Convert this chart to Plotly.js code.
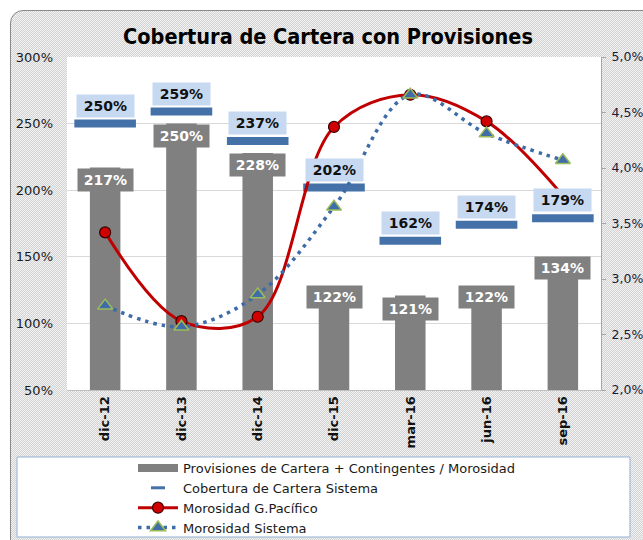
<!DOCTYPE html>
<html>
<head>
<meta charset="utf-8">
<script src="https://cdn.plot.ly/plotly-3.0.1.min.js"></script>
<style>
  html, body { margin: 0; padding: 0; background: #ffffff; width: 643px; height: 540px; overflow: hidden; }
  #frame {
    position: absolute; left: 10px; top: 10px; width: 680px; height: 580px;
    border: 1px solid #8a8a8a; border-radius: 13px;
    background-color: #e2e2e2;
    background-image: repeating-conic-gradient(#d2d2d2 0% 25%, #f3f3f3 0% 50%);
    background-size: 2px 2px;
  }
  #chart { position: absolute; left: 0; top: 0; width: 643px; height: 540px; }
</style>
</head>
<body>
<div id="frame"></div>
<div id="chart"></div>
<script>
// ---- data ----
var categories = ['dic-12', 'dic-13', 'dic-14', 'dic-15', 'mar-16', 'jun-16', 'sep-16'];
var provisiones = [217, 250, 228, 122, 121, 122, 134];           // %
var coberturaSistema = [250, 259, 237, 202, 162, 174, 179];      // %
var morosidadPacifico = [3.42, 2.62, 2.66, 4.37, 4.66, 4.42, 3.75]; // %
var morosidadSistema = [2.76, 2.57, 2.86, 3.65, 4.66, 4.31, 4.07];  // %
var leftTicks = [50, 100, 150, 200, 250, 300];
var leftTickLabels = ['50%', '100%', '150%', '200%', '250%', '300%'];
var rightTicks = [2.0, 2.5, 3.0, 3.5, 4.0, 4.5, 5.0];
var rightTickLabels = ['2,0%', '2,5%', '3,0%', '3,5%', '4,0%', '4,5%', '5,0%'];
var names = ['Provisiones de Cartera + Contingentes / Morosidad', 'Cobertura de Cartera Sistema',
             'Morosidad G.Pacífico', 'Morosidad Sistema'];

// ---- style (label placement offsets in px, not data) ----
var barLabelShift = [0, 0, 0, 9, -2, 9, 22];
var FONT = 'DejaVu Sans, Verdana, sans-serif';
var FONTC = 'DejaVu Sans Condensed, DejaVu Sans, sans-serif';
var GRAY = '#808080';
var BLUE = '#4472A8';
var RED = '#C00000';

var traces = [
  { type: 'bar', x: categories, y: provisiones, yaxis: 'y', marker: { color: GRAY }, showlegend: false, hoverinfo: 'skip' },
  { type: 'scatter', mode: 'markers', x: categories, y: coberturaSistema, yaxis: 'y',
    marker: { symbol: 'line-ew', size: 44, color: BLUE, line: { width: 8, color: BLUE } }, showlegend: false, hoverinfo: 'skip' },
  // legend stand-ins
  { type: 'scatter', mode: 'lines', x: [null], y: [null], name: names[0], line: { color: GRAY, width: 8 } },
  { type: 'scatter', mode: 'markers', x: [null], y: [null], name: names[1],
    marker: { symbol: 'line-ew', size: 10, color: BLUE, line: { width: 3, color: BLUE } } },
  { type: 'scatter', mode: 'lines+markers', x: categories, y: morosidadPacifico, yaxis: 'y2', name: names[2],
    line: { color: RED, width: 3, shape: 'spline', smoothing: 1 },
    marker: { symbol: 'circle', size: 11, color: '#D00000', line: { color: '#3a0000', width: 1.2 } } },
  { type: 'scatter', mode: 'lines+markers', x: categories, y: morosidadSistema, yaxis: 'y2', name: names[3],
    line: { color: '#3D6AA8', width: 3.5, dash: '3.5px,5px', shape: 'spline', smoothing: 1 },
    marker: { symbol: 'triangle-up', size: 13, color: '#3E6DAA', line: { color: '#9BBB59', width: 1.5 } } }
];

var annotations = [];
categories.forEach(function (c, i) {
  annotations.push({
    x: c, y: provisiones[i], xref: 'x', yref: 'y', yanchor: 'top', yshift: barLabelShift[i],
    text: provisiones[i] + '%', showarrow: false, bgcolor: GRAY, width: 55, height: 22, borderpad: 0,
    font: { family: FONT, size: 14, color: '#ffffff', weight: 'bold' }
  });
  annotations.push({
    x: c, y: coberturaSistema[i], xref: 'x', yref: 'y', yanchor: 'bottom', yshift: 6,
    text: coberturaSistema[i] + '%', showarrow: false, bgcolor: '#C6D9F1', width: 57, height: 22, borderpad: 0,
    font: { family: FONT, size: 14, color: '#111111', weight: 'bold' }
  });
});

var layout = {
  width: 643, height: 540,
  margin: { l: 67, r: 42, t: 57, b: 150, pad: 0, autoexpand: false },
  paper_bgcolor: 'rgba(0,0,0,0)',
  plot_bgcolor: '#ffffff',
  title: { text: 'Cobertura de Cartera con Provisiones', x: 0.4888, xref: 'paper', xanchor: 'center',
           y: 1 - 36 / 540, yanchor: 'middle',
           font: { family: FONTC, size: 21.5, color: '#000000', weight: 'bold' } },
  bargap: 0.6,
  showlegend: true,
  legend: { x: 0.1236, y: -0.189, xanchor: 'left', yanchor: 'top', bgcolor: 'rgba(0,0,0,0)', borderwidth: 0,
            itemwidth: 40, tracegroupgap: 0, traceorder: 'normal',
            font: { family: FONT, size: 13, color: '#1a1a1a' } },
  xaxis: { type: 'category', range: [-0.5, 6.5], autorange: false, showline: true, linecolor: '#BFBFBF', linewidth: 1,
           ticks: '', tickangle: -90,
           tickfont: { family: FONT, size: 13, color: '#111111', weight: 'bold' }, showgrid: false, fixedrange: true },
  yaxis: { range: [50, 300], tickvals: leftTicks, ticktext: leftTickLabels, showgrid: true, gridcolor: '#D9D9D9',
           zeroline: false, showline: false, ticks: '', ticklabelstandoff: 13,
           tickfont: { family: FONT, size: 13, color: '#1a1a1a' }, fixedrange: true },
  yaxis2: { range: [2.0, 5.0], overlaying: 'y', side: 'right', tickvals: rightTicks, ticktext: rightTickLabels,
            showgrid: false, zeroline: false, showline: true, linecolor: '#A6A6A6', linewidth: 1,
            ticks: 'outside', ticklen: 4, tickcolor: '#A6A6A6', ticklabelstandoff: 3,
            tickfont: { family: FONT, size: 12.5, color: '#1a1a3a' }, fixedrange: true },
  annotations: annotations,
  shapes: [
    { type: 'rect', xref: 'paper', yref: 'paper', x0: -0.0936, x1: 1.0543, y0: -0.4414, y1: -0.2012,
      fillcolor: '#ffffff', line: { color: '#95B3D7', width: 1 }, layer: 'below' }
  ]
};

Plotly.newPlot('chart', traces, layout, { displayModeBar: false, staticPlot: true });
</script>
</body>
</html>
